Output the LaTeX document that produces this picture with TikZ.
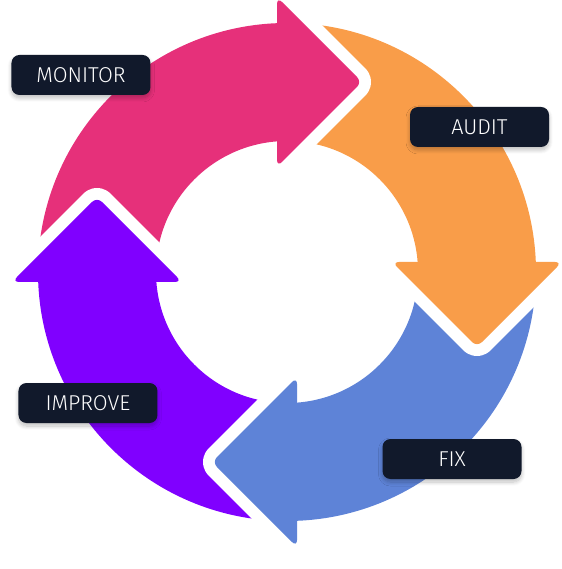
\documentclass[tikz,border=0pt]{standalone}
\usepackage{fontspec}
\setmainfont{Fira Sans}[UprightFont=* Light]
\usetikzlibrary{shadows.blur}
\definecolor{monitorpink}{RGB}{230,48,122}
\definecolor{auditorange}{RGB}{249,157,73}
\definecolor{fixblue}{RGB}{94,131,215}
\definecolor{improvepurple}{RGB}{128,0,255}
\definecolor{labelnavy}{RGB}{17,25,43}
\begin{document}
\begin{tikzpicture}[x=1pt, y=1pt, line join=round,
  steplabel/.style={fill=labelnavy, text=white, rounded corners=8pt,
    minimum width=139pt, minimum height=40pt, inner sep=0pt,
    font=\fontsize{21.5}{21.5}\selectfont,
    blur shadow={shadow xshift=0pt, shadow yshift=-3pt, shadow blur steps=8, shadow blur radius=4pt, shadow opacity=25}}]
  \useasboundingbox (-287,-297) rectangle (274,272);

  % Ring: one quarter per step, drawn clockwise
  \foreach \ang/\col in {0/monitorpink, -90/auditorange, -180/fixblue, -270/improvepurple}{
    \begin{scope}[rotate=\ang]
      \fill[\col] (180:249) arc[start angle=180, end angle=90, radius=249]
        -- (90:131) arc[start angle=90, end angle=180, radius=131] -- cycle;
    \end{scope}
  }

  % Arrow heads, with a white rim cutting into the next quarter
  \foreach \ang/\col in {0/monitorpink, -90/auditorange, -180/fixblue, -270/improvepurple}{
    \begin{scope}[rotate=\ang]
      \coordinate (e1) at (-10,275);
      \coordinate (tip) at (75,190);
      \coordinate (e2) at (-10,105);
      \draw[white, line width=24pt, rounded corners=7pt] (e1) -- (tip) -- (e2);
      \fill[\col, rounded corners=7pt] (e1) -- (tip) -- (e2) -- cycle;
    \end{scope}
  }

  % Labels
  \node[steplabel] (monitor) at (-206,197) {MONITOR};
  \node[steplabel] (audit) at (192.5,145) {AUDIT};
  \node[steplabel] (fix) at (165,-187) {FIX};
  \node[steplabel] (improve) at (-199,-131) {IMPROVE};
\end{tikzpicture}
\end{document}
